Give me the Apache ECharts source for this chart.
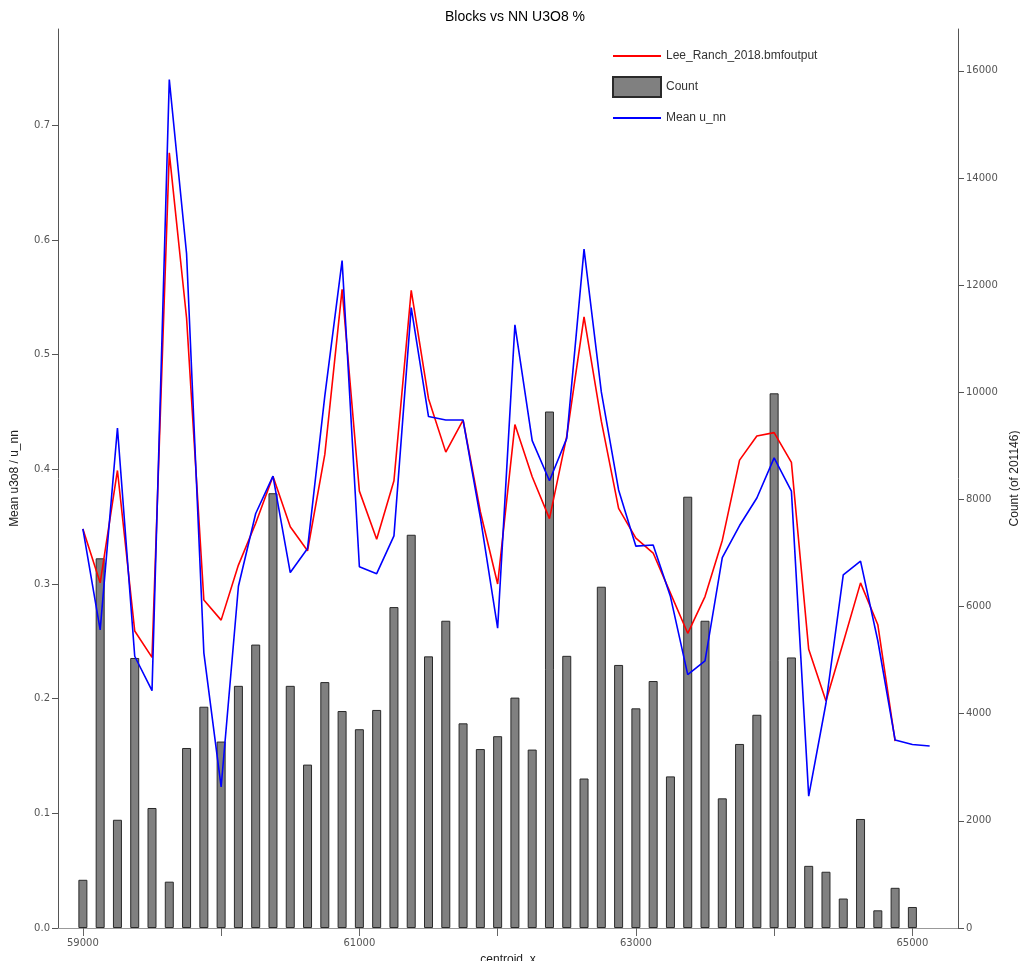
<!DOCTYPE html>
<html>
<head>
<meta charset="utf-8">
<title>Blocks vs NN U3O8 %</title>
<script src="https://cdn.jsdelivr.net/npm/echarts@6/dist/echarts.min.js"></script>
<style>
  html, body { margin: 0; padding: 0; background: #ffffff; }
  #chart { width: 1020px; height: 961px; }
</style>
</head>
<body>
<div id="chart"></div>
<script>
// Bin centres along centroid_x
const centroidX = [
  59000, 59125, 59250, 59375, 59500, 59625, 59750, 59875, 60000, 60125,
  60250, 60375, 60500, 60625, 60750, 60875, 61000, 61125, 61250, 61375,
  61500, 61625, 61750, 61875, 62000, 62125, 62250, 62375, 62500, 62625,
  62750, 62875, 63000, 63125, 63250, 63375, 63500, 63625, 63750, 63875,
  64000, 64125, 64250, 64375, 64500, 64625, 64750, 64875, 65000, 65125
];

// Block count per bin (right axis)
const blockCount = [
  900, 6900, 2020, 5040, 2240, 865, 3360, 4130, 3480, 4520,
  5290, 8115, 4520, 3050, 4590, 4050, 3710, 4070, 5990, 7340,
  5070, 5735, 3820, 3340, 3580, 4300, 3330, 9640, 5080, 2790,
  6370, 4910, 4100, 4610, 2830, 8050, 5735, 2420, 3435, 3980,
  9980, 5050, 1160, 1050, 550, 2035, 330, 750, 392
];

// Mean u3o8 from Lee_Ranch_2018.bmfoutput (left axis)
const meanU3o8 = [
  0.348, 0.301, 0.399, 0.259, 0.236, 0.676, 0.532, 0.286, 0.2685, 0.3165,
  0.353, 0.394, 0.350, 0.329, 0.413, 0.557, 0.381, 0.339, 0.390, 0.556,
  0.4616, 0.415, 0.443, 0.363, 0.300, 0.439, 0.3935, 0.357, 0.429, 0.533,
  0.442, 0.366, 0.340, 0.327, 0.292, 0.257, 0.289, 0.338, 0.408, 0.429,
  0.432, 0.406, 0.243, 0.198, 0.249, 0.301, 0.2645, 0.163
];

// Mean u_nn (left axis)
const meanUnn = [
  0.348, 0.260, 0.436, 0.237, 0.207, 0.740, 0.588, 0.240, 0.123, 0.298,
  0.3615, 0.394, 0.310, 0.331, 0.464, 0.582, 0.315, 0.309, 0.342, 0.541,
  0.446, 0.443, 0.443, 0.358, 0.2615, 0.526, 0.425, 0.390, 0.427, 0.592,
  0.4675, 0.382, 0.333, 0.334, 0.289, 0.221, 0.233, 0.323, 0.351, 0.375,
  0.410, 0.381, 0.115, 0.196, 0.308, 0.320, 0.2505, 0.164, 0.160, 0.1587
];

// Tick labels
const xTickValues = [59000, 60000, 61000, 62000, 63000, 64000, 65000];
const xLabelValues = [59000, 61000, 63000, 65000];
const leftTickValues = [0, 0.1, 0.2, 0.3, 0.4, 0.5, 0.6, 0.7];
const rightTickValues = [0, 2000, 4000, 6000, 8000, 10000, 12000, 14000, 16000];

const pair = (vals) => vals.map((v, i) => [centroidX[i], v]);

const tickFont = { fontFamily: 'DejaVu Sans', fontSize: 10, color: '#555555' };
const nameFont = { fontFamily: 'Liberation Sans', fontSize: 12, color: '#222222' };

const chart = echarts.init(document.getElementById('chart'), null, { renderer: 'canvas' });

chart.setOption({
  animation: false,
  backgroundColor: '#ffffff',
  title: {
    text: 'Blocks vs NN U3O8 %',
    left: 510,
    textAlign: 'center',
    top: 5,
    textStyle: { fontFamily: 'Liberation Sans', fontSize: 14, fontWeight: 'normal', color: '#000000' }
  },
  legend: {
    orient: 'vertical',
    left: 612,
    top: 48,
    padding: 0,
    itemWidth: 48,
    itemHeight: 20,
    itemGap: 12,
    textStyle: { fontFamily: 'Liberation Sans', fontSize: 12, color: '#333333' },
    data: [
      { name: 'Lee_Ranch_2018.bmfoutput', itemStyle: { opacity: 0 } },
      { name: 'Count', icon: 'rect' },
      { name: 'Mean u_nn', itemStyle: { opacity: 0 } }
    ]
  },
  grid: { left: 58, right: 62, top: 29, bottom: 33, containLabel: false, outerBoundsMode: 'none' },
  xAxis: {
    type: 'value',
    min: 58820,
    max: 65330,
    name: 'centroid_x',
    nameLocation: 'middle',
    nameGap: 26,
    nameTextStyle: nameFont,
    splitLine: { show: false },
    axisLine: { show: true, lineStyle: { color: '#999999', width: 1 } },
    axisTick: { show: true, inside: false, length: 8, customValues: xTickValues, lineStyle: { color: '#666666' } },
    axisLabel: { ...tickFont, margin: 10, customValues: xLabelValues, formatter: (v) => String(v) }
  },
  yAxis: [
    {
      type: 'value',
      position: 'left',
      min: 0,
      max: 0.784,
      name: 'Mean u3o8 / u_nn',
      nameLocation: 'middle',
      nameRotate: 90,
      nameGap: 37,
      nameTextStyle: nameFont,
      splitLine: { show: false },
      axisLine: { show: true, lineStyle: { color: '#555555', width: 1 } },
      axisTick: { show: true, inside: false, length: 6, customValues: leftTickValues, lineStyle: { color: '#555555' } },
      axisLabel: { ...tickFont, margin: 8, customValues: leftTickValues, formatter: (v) => v.toFixed(1) }
    },
    {
      type: 'value',
      position: 'right',
      min: 0,
      max: 16780,
      name: 'Count (of 201146)',
      nameLocation: 'middle',
      nameRotate: 90,
      nameGap: 50,
      nameTextStyle: nameFont,
      splitLine: { show: false },
      axisLine: { show: true, lineStyle: { color: '#555555', width: 1 } },
      axisTick: { show: true, inside: false, length: 6, customValues: rightTickValues, lineStyle: { color: '#555555' } },
      axisLabel: { ...tickFont, margin: 8, customValues: rightTickValues, formatter: (v) => String(v) }
    }
  ],
  series: [
    {
      name: 'Count',
      type: 'bar',
      yAxisIndex: 1,
      barWidth: 9,
      data: pair(blockCount),
      itemStyle: { color: '#808080', borderColor: '#2a2a2a', borderWidth: 1 },
      z: 1
    },
    {
      name: 'Lee_Ranch_2018.bmfoutput',
      type: 'line',
      yAxisIndex: 0,
      data: pair(meanU3o8),
      symbol: 'none',
      lineStyle: { color: '#ff0000', width: 1.6 },
      itemStyle: { color: '#ff0000' },
      z: 3
    },
    {
      name: 'Mean u_nn',
      type: 'line',
      yAxisIndex: 0,
      data: pair(meanUnn),
      symbol: 'none',
      lineStyle: { color: '#0000ff', width: 1.6 },
      itemStyle: { color: '#0000ff' },
      z: 4
    }
  ]
});
</script>
</body>
</html>
